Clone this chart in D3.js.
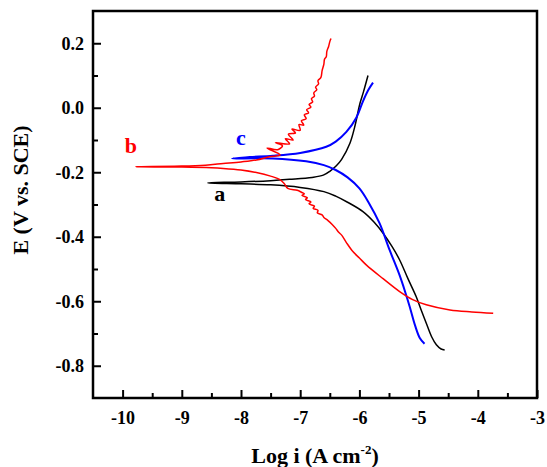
<!DOCTYPE html>
<html>
<head>
<meta charset="utf-8">
<script src="https://cdn.jsdelivr.net/npm/d3@7"></script>
<style>
  body { margin: 0; background: #fff; }
  svg text { font-family: "Liberation Serif", "Times New Roman", "DejaVu Serif", serif !important; font-weight: bold; }
</style>
</head>
<body>
<div id="chart"></div>
<script>
// curve a (black): [log i, E]
let aCathodic = [
  [-8.56,-0.233],[-8.0,-0.236],[-7.5,-0.239],[-7.0,-0.247],[-6.6,-0.260],[-6.4,-0.274],
  [-6.2,-0.293],[-5.94,-0.322],[-5.75,-0.355],[-5.6,-0.389],[-5.45,-0.43],[-5.32,-0.472],
  [-5.18,-0.53],[-5.04,-0.586],[-4.95,-0.63],[-4.87,-0.668],[-4.78,-0.71],[-4.70,-0.735],
  [-4.62,-0.748],[-4.56,-0.751]
];
let aAnodic = [
  [-8.56,-0.233],[-8.0,-0.230],[-7.5,-0.226],[-7.18,-0.222],[-6.8,-0.216],[-6.61,-0.209],
  [-6.5,-0.197],[-6.39,-0.180],[-6.3,-0.16],[-6.16,-0.11],[-6.08,-0.06],[-5.99,0.014],
  [-5.93,0.05],[-5.855,0.10]
];

// curve b (red)
let bCathodic = [
  [-9.78,-0.183],[-9.0,-0.184],[-8.5,-0.186],[-8.3,-0.188],[-8.0,-0.193],[-7.74,-0.201],
  [-7.5,-0.212],[-7.35,-0.222],[-7.27,-0.235],[-7.21,-0.25],[-7.05,-0.256],[-6.98,-0.262],
  [-6.93,-0.267],[-6.97,-0.272],[-6.88,-0.279],[-6.91,-0.285],[-6.82,-0.292],[-6.85,-0.298],
  [-6.76,-0.305],[-6.78,-0.312],[-6.70,-0.318],[-6.71,-0.326],[-6.63,-0.332],[-6.60,-0.340],
  [-6.53,-0.350],[-6.46,-0.362],[-6.40,-0.374],[-6.35,-0.386],[-6.30,-0.395],[-6.22,-0.418],
  [-6.11,-0.446],[-6.0,-0.466],[-5.88,-0.488],[-5.6,-0.530],[-5.32,-0.570],[-5.1,-0.595],
  [-4.87,-0.611],[-4.47,-0.627],[-4.1,-0.633],[-3.74,-0.637]
];
let bAnodic = [
  [-9.78,-0.183],[-9.0,-0.181],[-8.6,-0.178],[-8.3,-0.173],[-8.0,-0.168],[-7.74,-0.162],
  [-7.52,-0.152],[-7.34,-0.146],[-7.56,-0.125],[-7.38,-0.130],[-7.30,-0.118],[-7.42,-0.108],
  [-7.18,-0.112],[-7.25,-0.096],[-7.12,-0.100],[-7.20,-0.082],[-7.08,-0.078],[-7.14,-0.066],
  [-7.00,-0.070],[-7.02,-0.052],[-6.94,-0.054],[-6.98,-0.040],[-6.90,-0.034],[-6.93,-0.022],
  [-6.86,-0.016],[-6.89,-0.006],[-6.82,0.002],[-6.85,0.010],[-6.79,0.018],[-6.81,0.028],
  [-6.76,0.036],[-6.77,0.046],[-6.72,0.056],[-6.74,0.064],[-6.69,0.074],[-6.70,0.084],
  [-6.65,0.094],[-6.63,0.115],[-6.60,0.135],[-6.59,0.150],[-6.56,0.158],[-6.55,0.175],
  [-6.52,0.190],[-6.50,0.205],[-6.48,0.215]
];

// curve c (blue)
let cCathodic = [
  [-8.15,-0.157],[-7.46,-0.157],[-6.9,-0.166],[-6.6,-0.178],[-6.4,-0.193],[-6.2,-0.216],
  [-6.0,-0.250],[-5.84,-0.295],[-5.66,-0.358],[-5.49,-0.441],[-5.32,-0.52],[-5.22,-0.575],
  [-5.15,-0.617],[-5.06,-0.675],[-4.98,-0.714],[-4.90,-0.732]
];
let cAnodic = [
  [-8.15,-0.157],[-7.85,-0.153],[-7.46,-0.149],[-7.0,-0.140],[-6.56,-0.121],[-6.4,-0.105],
  [-6.22,-0.075],[-6.05,-0.03],[-5.94,0.02],[-5.85,0.055],[-5.77,0.078]
];

let xTicks = [-10, -9, -8, -7, -6, -5, -4, -3];
let yTicks = [-0.8, -0.6, -0.4, -0.2, 0.0, 0.2];

let width = 547, height = 467;
let serif = "'Liberation Serif', 'Times New Roman', 'DejaVu Serif', serif";

let svg = d3.select("#chart")
  .append("svg")
    .attr("width", width)
    .attr("height", height);

let x = d3.scaleLinear().domain([-10.5, -3]).range([93, 537]);
let y = d3.scaleLinear().domain([-0.9, 0.3]).range([398, 11]);

// minor ticks
svg.append("g")
  .attr("transform", "translate(0,398)")
  .call(d3.axisBottom(x).tickValues(d3.range(-9.5, -3, 1)).tickSize(-5).tickFormat(""))
  .call(g => g.select(".domain").remove())
  .selectAll("line").attr("stroke-width", 2);
svg.append("g")
  .attr("transform", "translate(93,0)")
  .call(d3.axisLeft(y).tickValues([-0.7, -0.5, -0.3, -0.1, 0.1]).tickSize(-5).tickFormat(""))
  .call(g => g.select(".domain").remove())
  .selectAll("line").attr("stroke-width", 2);

// X axis
svg.append("g")
  .attr("transform", "translate(0,398)")
  .call(d3.axisBottom(x).tickValues(xTicks).tickSize(-8).tickPadding(13).tickFormat(d => String(d)))
  .attr("font-family", serif)
  .call(g => g.select(".domain").remove())
  .call(g => g.selectAll("line").attr("stroke-width", 2))
  .selectAll("text")
    .attr("fill", "#000")
    .style("font-family", serif)
    .style("font-size", "18px");

// Y axis
svg.append("g")
  .attr("transform", "translate(93,0)")
  .call(d3.axisLeft(y).tickValues(yTicks).tickSize(-8).tickPadding(9).tickFormat(d => d.toFixed(1)))
  .attr("font-family", serif)
  .call(g => g.select(".domain").remove())
  .call(g => g.selectAll("line").attr("stroke-width", 2))
  .selectAll("text")
    .attr("fill", "#000")
    .style("font-family", serif)
    .style("font-size", "18px");

// frame
svg.append("rect")
  .attr("x", x(-10.5))
  .attr("y", y(0.3))
  .attr("width", x(-3) - x(-10.5))
  .attr("height", y(-0.9) - y(0.3))
  .attr("fill", "none")
  .attr("stroke", "#000")
  .attr("stroke-width", 2.5);

let line = d3.line()
  .x(d => x(d[0]))
  .y(d => y(d[1]))
  .curve(d3.curveCatmullRom.alpha(0.5));

let curves = [
  {data: aCathodic.slice().reverse().concat(aAnodic.slice(1)), color: "#000000", w: 1.5},
  {data: cCathodic.slice().reverse().concat(cAnodic.slice(1)), color: "#0000ff", w: 2},
  {data: bCathodic.slice().reverse().concat(bAnodic.slice(1)), color: "#ff0000", w: 1.5}
];

curves.forEach(c => {
  svg.append("path")
    .datum(c.data)
    .attr("fill", "none")
    .attr("stroke", c.color)
    .attr("stroke-width", c.w)
    .attr("stroke-linejoin", "round")
    .attr("d", line);
});

// curve labels
let labels = [
  {t: "a", lx: -8.36, ly: -0.29, color: "#000"},
  {t: "b", lx: -9.86, ly: -0.14, color: "#ff0000"},
  {t: "c", lx: -8.0, ly: -0.115, color: "#0000ff"}
];
svg.selectAll(".curve-label")
  .data(labels)
  .enter()
  .append("text")
    .attr("class", "curve-label")
    .attr("x", d => x(d.lx))
    .attr("y", d => y(d.ly))
    .attr("text-anchor", "middle")
    .attr("fill", d => d.color)
    .style("font-family", serif)
    .style("font-size", "22px")
    .text(d => d.t);

// axis titles
let xTitle = svg.append("text")
  .attr("x", 315)
  .attr("y", 463)
  .attr("text-anchor", "middle")
  .style("font-family", serif)
  .style("font-size", "22px")
  .text("Log i (A cm");
xTitle.append("tspan")
  .attr("dy", -9)
  .style("font-size", "13px")
  .text("-2");
xTitle.append("tspan")
  .attr("dy", 9)
  .text(")");

svg.append("text")
  .attr("transform", "translate(28,190) rotate(-90)")
  .attr("text-anchor", "middle")
  .style("font-family", serif)
  .style("font-size", "22px")
  .text("E (V vs. SCE)");
</script>
</body>
</html>
